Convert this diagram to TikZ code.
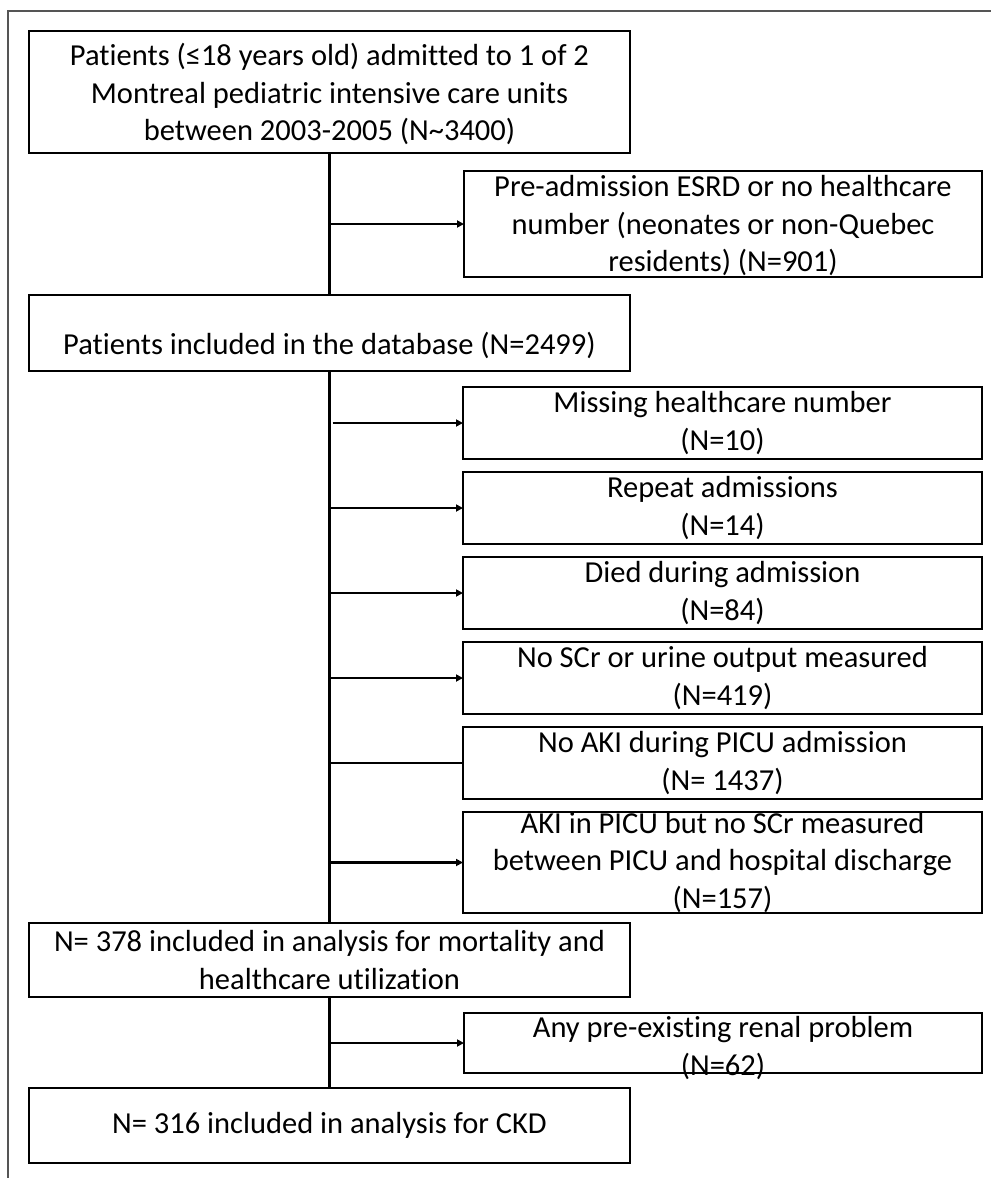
\documentclass[tikz,border=0pt]{standalone}
\usepackage{fontspec}
\setmainfont{Carlito}[Ligatures=NoCommon]
\usetikzlibrary{arrows.meta}
\definecolor{framegray}{RGB}{85,85,85}
\begin{document}
\begin{tikzpicture}[x=1pt,y=-1pt,
  box/.style={draw=black, line width=2.6pt, inner sep=0pt, outer sep=0pt},
  txt/.style={font=\fontsize{30.5}{37.5}\selectfont, align=center, inner sep=0pt},
  conn/.style={draw=black, line width=2.1pt},
  arr/.style={conn, -{Triangle[length=7pt,width=7pt]}}
]
\useasboundingbox (0,0) rectangle (991,1178);
% outer frame
\draw[framegray, line width=2pt] (8,1178) -- (8,11) -- (991,11);

% left column boxes
\node[box, minimum width=601pt, minimum height=122pt] (b1) at (329.5,92) {};
\node[box, minimum width=601pt, minimum height=76pt] (b3) at (329.5,333) {};
\node[box, minimum width=601pt, minimum height=74pt] (b10) at (329.5,960) {};
\node[box, minimum width=601pt, minimum height=75pt] (b12) at (329.5,1125.5) {};

% right column boxes
\node[box, minimum width=518pt, minimum height=106pt] (b2) at (723,224) {};
\node[box, minimum width=519pt, minimum height=72pt] (m1) at (722.5,423) {};
\node[box, minimum width=519pt, minimum height=72pt] (m2) at (722.5,508) {};
\node[box, minimum width=519pt, minimum height=72pt] (m3) at (722.5,593) {};
\node[box, minimum width=519pt, minimum height=72pt] (m4) at (722.5,678) {};
\node[box, minimum width=519pt, minimum height=72pt] (m5) at (722.5,763) {};
\node[box, minimum width=519pt, minimum height=101pt] (m6) at (722.5,862.5) {};
\node[box, minimum width=518pt, minimum height=60pt] (b11) at (723,1043) {};

% texts
\node[txt] (t1) at ([yshift=-2pt]b1.center) {Patients (≤18 years old) admitted to 1 of 2\\Montreal pediatric intensive care units\\between 2003-2005 (N\textasciitilde 3400)};
\node[txt] (t2) at ([yshift=-2pt]b2.center) {Pre-admission ESRD or no healthcare\\number (neonates or non-Quebec\\residents) (N=901)};
\node[txt] (t3) at ([yshift=-12pt]b3.center) {Patients included in the database (N=2499)};
\node[txt] (tm1) at (m1.center) {Missing healthcare number\\(N=10)};
\node[txt] (tm2) at (m2.center) {Repeat admissions\\(N=14)};
\node[txt] (tm3) at (m3.center) {Died during admission\\(N=84)};
\node[txt] (tm4) at (m4.center) {No SCr or urine output measured\\(N=419)};
\node[txt] (tm5) at (m5.center) {No AKI during PICU admission\\(N= 1437)};
\node[txt] (tm6) at (m6.center) {AKI in PICU but no SCr measured\\between PICU and hospital discharge\\(N=157)};
\node[txt] (t10) at (b10.center) {N= 378 included in analysis for mortality and\\healthcare utilization};
\node[txt] (t11) at ([yshift=-5pt]b11.center) {Any pre-existing renal problem\\(N=62)};
\node[txt] (t12) at (b12.center) {N= 316 included in analysis for CKD};

% spine
\draw[conn] (b1.south) -- (b3.north);
\draw[conn] (b3.south) -- (b10.north);
\draw[conn] (b10.south) -- (b12.north);

% side arrows
\draw[arr] (b1.south |- b2.west) -- (b2.west);
\draw[arr] ([xshift=3pt]b3.south |- m1.west) -- (m1.west);
\draw[arr] (b3.south |- m2.west) -- (m2.west);
\draw[arr] (b3.south |- m3.west) -- (m3.west);
\draw[arr] (b3.south |- m4.west) -- (m4.west);
\draw[conn] (b3.south |- m5.west) -- (m5.west);
\draw[arr] (b3.south |- m6.west) -- (m6.west);
\draw[arr] (b10.south |- b11.west) -- (b11.west);
\end{tikzpicture}
\end{document}
